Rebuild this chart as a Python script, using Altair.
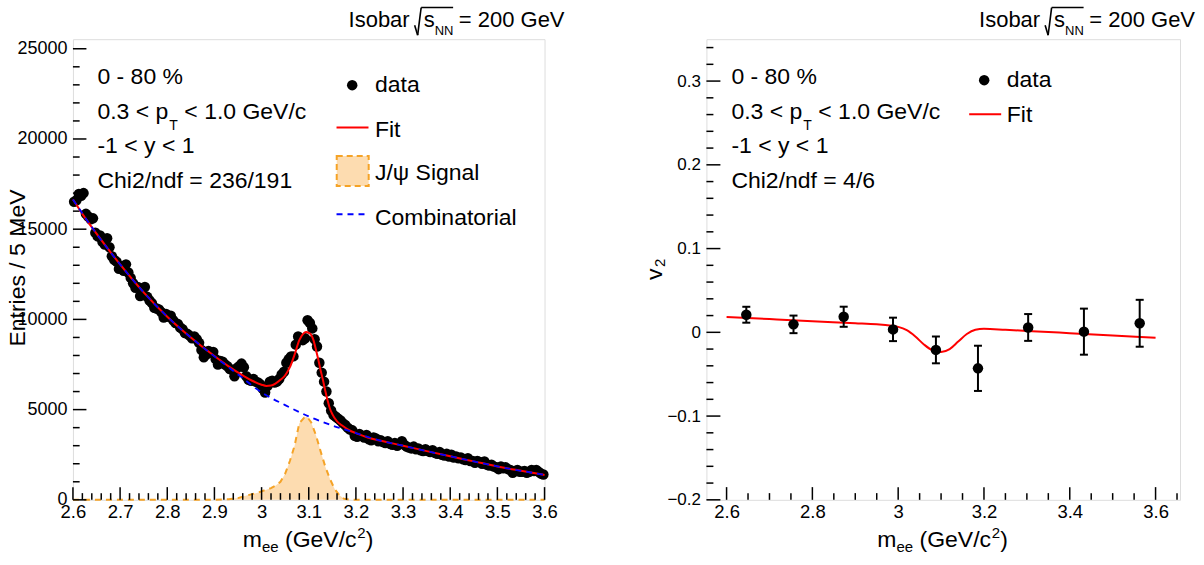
import altair as alt
import pandas as pd

FONT = "Liberation Sans"
RED = "#ff0000"
BLUE = "#0000ff"
ORANGE = "#f5a326"
PEACH = "#fddcb0"

# ---------------- left panel: invariant mass spectrum ----------------
bin_center = [round(2.6025 + 0.005 * i, 4) for i in range(200)]
counts = [
    16520, 16600, 16950, 16850, 17000, 15850, 15700, 15550, 15600, 14800,
    14600, 14650, 14300, 14150, 14500, 14000, 13500, 13300, 13200, 12800,
    12950, 12700, 13050, 12600, 12300, 12000, 11750, 11800, 11300, 11700,
    11800, 11250, 11050, 10900, 10650, 10600, 10550, 10400, 10100, 10300,
    10150, 10200, 9950, 9800, 9750, 9550, 9450, 9250, 9200, 9100,
    8950, 9050, 8900, 8700, 8300, 7900, 8050, 8250, 8150, 8200,
    7800, 7500, 7700, 7650, 7500, 7400, 7250, 7200, 6850, 7300,
    7400, 7550, 7350, 6850, 6650, 6600, 6700, 6550, 6500, 6400,
    6150, 5950, 6300, 6550, 6600, 6500, 6550, 6700, 6950, 7100,
    7600, 7800, 7950, 7950, 8600, 9050, 8900, 8850, 8950, 9950,
    9800, 9500, 8900, 8500, 7600, 7050, 6550, 6000, 5350, 4950,
    4700, 4600, 4500, 4400, 4250, 4150, 4000, 3900, 3850, 3550,
    3500, 3650, 3550, 3450, 3600, 3350, 3300, 3450, 3400, 3250,
    3300, 3200, 3150, 3250, 3100, 3050, 3150, 3000, 3100, 3250,
    3050, 2950, 2900, 2850, 2950, 2800, 2850, 2750, 2700, 2800,
    2700, 2650, 2750, 2600, 2550, 2650, 2500, 2450, 2550, 2400,
    2500, 2350, 2400, 2300, 2350, 2250, 2200, 2300, 2150, 2150,
    2050, 2150, 2100, 2000, 2120, 1950, 1900, 1950, 1850, 1800,
    1700, 1850, 1750, 1800, 1700, 1650, 1500, 1600, 1650, 1550,
    1550, 1600, 1500, 1550, 1650, 1600, 1650, 1550, 1450, 1400,
]

fit_mass = [2.60, 2.62, 2.65, 2.70, 2.75, 2.80, 2.85, 2.90, 2.93, 2.96,
            2.98, 3.00, 3.01, 3.02, 3.03, 3.04, 3.05, 3.06, 3.07, 3.08,
            3.09, 3.095, 3.10, 3.105, 3.11, 3.115, 3.12, 3.125, 3.13, 3.135,
            3.14, 3.145, 3.15, 3.16, 3.17, 3.18, 3.19, 3.20, 3.225, 3.25,
            3.30, 3.35, 3.40, 3.45, 3.50, 3.55, 3.60]
fit_counts = [16650, 15850, 14750, 13050, 11500, 10150, 9000, 7970, 7400, 6900,
              6600, 6380, 6315, 6330, 6450, 6650, 6900, 7350, 8050, 8850,
              9250, 9300, 9250, 9150, 8850, 8350, 7800, 7200, 6650, 6050,
              5500, 5050, 4750, 4350, 4130, 3950, 3800, 3700, 3450, 3290,
              3000, 2700, 2410, 2130, 1850, 1610, 1380]

bg_mass = [2.60, 2.65, 2.70, 2.75, 2.80, 2.85, 2.90, 2.95, 3.00, 3.05,
           3.10, 3.15, 3.20, 3.25, 3.30, 3.35, 3.40, 3.45, 3.50, 3.55, 3.60]
bg_counts = [16650, 14750, 13050, 11500, 10150, 9000, 7950, 6950, 5950, 5250,
             4620, 4120, 3700, 3290, 3000, 2700, 2410, 2130, 1850, 1610, 1380]

sig_mass = [2.60, 2.90, 2.93, 2.95, 2.97, 2.99, 3.00, 3.01, 3.02, 3.03,
            3.04, 3.05, 3.06, 3.07, 3.08, 3.09, 3.096, 3.105, 3.115, 3.125,
            3.135, 3.145, 3.155, 3.165, 3.175, 3.19, 3.60]
sig_counts = [0, 0, 30, 95, 250, 380, 470, 560, 650, 800,
              1000, 1450, 2150, 3000, 4250, 4550, 4620, 4300, 3600, 2700,
              1850, 1150, 600, 250, 60, 0, 0]

# ---------------- right panel: v2 vs mass ----------------
v2_mass = [2.646, 2.756, 2.873, 2.988, 3.088, 3.186, 3.303, 3.433, 3.563]
v2_val = [0.021, 0.0095, 0.0186, 0.0035, -0.021, -0.043, 0.0058, 0.0008, 0.0108]
v2_err = [0.0095, 0.0105, 0.012, 0.014, 0.016, 0.027, 0.016, 0.0275, 0.028]

v2fit_mass = [2.60, 2.70, 2.80, 2.90, 2.95, 2.98, 3.00, 3.02, 3.04, 3.06, 3.08,
              3.10, 3.12, 3.14, 3.16, 3.18, 3.20, 3.25, 3.30, 3.40, 3.50, 3.60]
v2fit_val = [0.0184, 0.0158, 0.0132, 0.0108, 0.0095, 0.0082, 0.0065, 0.0025, -0.0050,
             -0.0145, -0.0215, -0.0235, -0.0200, -0.0110, -0.0020, 0.0030, 0.0042,
             0.0030, 0.0017, -0.0010, -0.0037, -0.0065]

# tick positions / labels
L_xticks = [2.6, 2.7, 2.8, 2.9, 3.0, 3.1, 3.2, 3.3, 3.4, 3.5, 3.6]
L_xminor = [round(2.6 + 0.02 * k, 2) for k in range(51) if k % 5 != 0]
L_yticks = [0, 5000, 10000, 15000, 20000, 25000]
L_yminor = [1000 * k for k in range(1, 26) if k % 5 != 0]
R_xticks = [2.6, 2.8, 3.0, 3.2, 3.4, 3.6]
R_xminor = [2.65, 2.7, 2.75, 2.85, 2.9, 2.95, 3.05, 3.1, 3.15, 3.25, 3.3, 3.35,
            3.45, 3.5, 3.55, 3.65]
R_yticks = [-0.2, -0.1, 0.0, 0.1, 0.2, 0.3]
R_yminor = [round(-0.2 + 0.02 * k, 2) for k in range(28) if k % 5 != 0]

W1, W2, H = 472, 474, 461
one = pd.DataFrame({"k": [0]})


def txt(s, x, y, size=23, align="left", angle=0, color="black"):
    return alt.Chart(one).mark_text(
        text=s, align=align, baseline="alphabetic", font=FONT, fontSize=size,
        angle=angle, color=color
    ).encode(x=alt.value(x), y=alt.value(y))


def hrule(x1, x2, y, color, dash=None, width=2):
    kw = dict(color=color, strokeWidth=width)
    if dash:
        kw["strokeDash"] = dash
    return alt.Chart(one).mark_rule(**kw).encode(
        x=alt.value(x1), x2=alt.value(x2), y=alt.value(y))


def seg(x1, y1, x2, y2, width=1.6):
    return alt.Chart(one).mark_rule(color="black", strokeWidth=width).encode(
        x=alt.value(x1), x2=alt.value(x2), y=alt.value(y1), y2=alt.value(y2))


def axis(values, size, pad, orient):
    return alt.Axis(values=values, labelExpr="format(datum.value, '~g')", title=None,
                    ticks=False, tickSize=0, domain=False, grid=False,
                    labelFontSize=size, labelPadding=pad, labelFont=FONT,
                    labelColor="black", labelOverlap=False, labelFlush=False,
                    labelBound=False, orient=orient)


def title_layers(E):
    return [
        txt("Isobar", E - 155, -12.3, 22, align="right"),
        seg(E - 150, -14, E - 147, -4),
        seg(E - 147, -4, E - 143.5, -31.7),
        seg(E - 143.5, -31.7, E - 111.5, -31.7),
        txt("s", E - 141, -12.3, 22),
        txt("NN", E - 130, -4.5, 13),
        txt("= 200 GeV", E, -12.3, 22, align="right"),
    ]


def xtitle_layers(C, y):
    s = C - 66
    return [
        txt("m", s, y, 23),
        txt("ee", s + 19.2, y + 5, 15),
        txt("(GeV/c", s + 42.3, y, 23),
        txt("2", s + 114.5, y - 9, 15),
        txt(")", s + 123, y, 23),
    ]


def info_layers(x0, chi):
    w1 = 71.0
    return [
        txt("0 - 80 %", x0, 44.5),
        txt("0.3 < p", x0, 79.5),
        txt("T", x0 + w1 + 1, 91, 14),
        txt("< 1.0 GeV/c", x0 + w1 + 16, 79.5),
        txt("-1 < y < 1", x0, 114),
        txt(chi, x0, 149),
    ]


# ---------------- left chart ----------------
sxL = alt.Scale(domain=[2.6, 3.6], nice=False, zero=False)
syL = alt.Scale(domain=[0, 25530], nice=False, zero=False)
axLx = axis(L_xticks, 18.5, 3, "bottom")
axLy = axis(L_yticks, 18, 6, "left")


def XL(f):
    return alt.X(f, type="quantitative", scale=sxL, axis=axLx)


def YL(f):
    return alt.Y(f, type="quantitative", scale=syL, axis=axLy)


dfL = pd.DataFrame({"m": bin_center, "c": counts})
dfFit = pd.DataFrame({"m": fit_mass, "c": fit_counts})
dfBg = pd.DataFrame({"m": bg_mass, "c": bg_counts})
dfSig = pd.DataFrame({"m": sig_mass, "c": sig_counts})

left_layers = [
    alt.Chart(dfSig).mark_area(color=PEACH, opacity=1).encode(x=XL("m"), y=YL("c")),
    alt.Chart(dfSig).mark_line(color=ORANGE, strokeWidth=2, strokeDash=[6, 5]).encode(
        x=XL("m"), y=YL("c")),
    alt.Chart(pd.DataFrame({"t": L_xticks})).mark_rule(color="black", strokeWidth=1.5).encode(
        x=XL("t"), y=alt.value(H), y2=alt.value(H - 12.7)),
    alt.Chart(pd.DataFrame({"t": L_xminor})).mark_rule(color="black", strokeWidth=1.5).encode(
        x=XL("t"), y=alt.value(H), y2=alt.value(H - 6.7)),
    alt.Chart(pd.DataFrame({"t": L_yticks})).mark_rule(color="black", strokeWidth=1.5).encode(
        y=YL("t"), x=alt.value(0), x2=alt.value(13.5)),
    alt.Chart(pd.DataFrame({"t": L_yminor})).mark_rule(color="black", strokeWidth=1.5).encode(
        y=YL("t"), x=alt.value(0), x2=alt.value(6.7)),
    alt.Chart(dfL).mark_circle(size=110, color="black", opacity=1).encode(x=XL("m"), y=YL("c")),
    alt.Chart(dfFit).mark_line(color=RED, strokeWidth=2, interpolate="monotone").encode(
        x=XL("m"), y=YL("c")),
    alt.Chart(dfBg).mark_line(color=BLUE, strokeWidth=1.8, strokeDash=[6, 5],
                              interpolate="monotone").encode(x=XL("m"), y=YL("c")),
]
left_layers += info_layers(24.5, "Chi2/ndf = 236/191")
left_layers += [
    alt.Chart(one).mark_circle(size=110, color="black", opacity=1).encode(
        x=alt.value(279.5), y=alt.value(46)),
    txt("data", 302.3, 52.7),
    hrule(263.8, 295.8, 88.3, RED),
    txt("Fit", 302.3, 97.7),
    alt.Chart(one).mark_rect(fill=PEACH, stroke=ORANGE, strokeWidth=2, strokeDash=[6, 4]).encode(
        x=alt.value(264), x2=alt.value(296), y=alt.value(117), y2=alt.value(147)),
    txt("J/ψ Signal", 302.3, 141),
    hrule(263.8, 295.8, 175.3, BLUE, dash=[6, 5]),
    txt("Combinatorial", 302.3, 186),
    txt("Entries / 5 MeV", -47.5, 229, 23, align="center", angle=270),
]
left_layers += title_layers(492)
left_layers += xtitle_layers(W1 / 2, 508)
left_layers.append(alt.Chart(one).mark_rule(strokeOpacity=0, strokeWidth=1).encode(
    x=alt.value(-72.2), y=alt.value(-38.5), y2=alt.value(-37.5)))

left = alt.layer(*left_layers).properties(width=W1, height=H)

# ---------------- right chart ----------------
sxR = alt.Scale(domain=[2.553, 3.657], nice=False, zero=False)
syR = alt.Scale(domain=[-0.2, 0.35], nice=False, zero=False)
axRx = axis(R_xticks, 18.5, 3, "bottom")
axRy = axis(R_yticks, 17, 6, "left")


def XR(f):
    return alt.X(f, type="quantitative", scale=sxR, axis=axRx)


def YR(f):
    return alt.Y(f, type="quantitative", scale=syR, axis=axRy)


dfR = pd.DataFrame({"m": v2_mass, "v": v2_val, "e": v2_err})
dfR["lo"] = dfR["v"] - dfR["e"]
dfR["hi"] = dfR["v"] + dfR["e"]
dfRfit = pd.DataFrame({"m": v2fit_mass, "v": v2fit_val})
cap = "M-1,0L1,0"

right_layers = [
    alt.Chart(pd.DataFrame({"t": R_xticks})).mark_rule(color="black", strokeWidth=1.5).encode(
        x=XR("t"), y=alt.value(H), y2=alt.value(H - 12.7)),
    alt.Chart(pd.DataFrame({"t": R_xminor})).mark_rule(color="black", strokeWidth=1.5).encode(
        x=XR("t"), y=alt.value(H), y2=alt.value(H - 6.7)),
    alt.Chart(pd.DataFrame({"t": R_yticks})).mark_rule(color="black", strokeWidth=1.5).encode(
        y=YR("t"), x=alt.value(0), x2=alt.value(14)),
    alt.Chart(pd.DataFrame({"t": R_yminor})).mark_rule(color="black", strokeWidth=1.5).encode(
        y=YR("t"), x=alt.value(0), x2=alt.value(7)),
    alt.Chart(dfRfit).mark_line(color=RED, strokeWidth=2, interpolate="monotone").encode(
        x=XR("m"), y=YR("v")),
    alt.Chart(dfR).mark_rule(color="black", strokeWidth=2).encode(
        x=XR("m"), y=YR("lo"), y2=alt.Y2("hi")),
    alt.Chart(dfR).mark_point(shape=cap, size=64, filled=False, color="black",
                              strokeWidth=2, opacity=1).encode(x=XR("m"), y=YR("lo")),
    alt.Chart(dfR).mark_point(shape=cap, size=64, filled=False, color="black",
                              strokeWidth=2, opacity=1).encode(x=XR("m"), y=YR("hi")),
    alt.Chart(dfR).mark_circle(size=110, color="black", opacity=1).encode(
        x=XR("m"), y=YR("v")),
]
right_layers += info_layers(25, "Chi2/ndf = 4/6")
right_layers += [
    alt.Chart(one).mark_circle(size=110, color="black", opacity=1).encode(
        x=alt.value(278), y=alt.value(41)),
    txt("data", 300.6, 48.3),
    hrule(263, 295, 75, RED),
    txt("Fit", 300.6, 82.7),
    txt("v", -44.3, 241, 23, angle=270),
    txt("2", -41.5, 228, 15, angle=270),
]
right_layers += title_layers(489)
right_layers += xtitle_layers(W2 / 2, 508)
right_layers.append(alt.Chart(one).mark_rule(strokeOpacity=0, strokeWidth=1).encode(
    x=alt.value(497.5), y=alt.value(524.5), y2=alt.value(525.5)))

right = alt.layer(*right_layers).properties(width=W2, height=H)

chart = alt.hconcat(left, right, spacing=162, bounds="flush", padding=0).configure_view(
    stroke="black", strokeWidth=2
).configure(font=FONT)

chart.save("out.html", embed_options={"renderer": "svg", "actions": False})
